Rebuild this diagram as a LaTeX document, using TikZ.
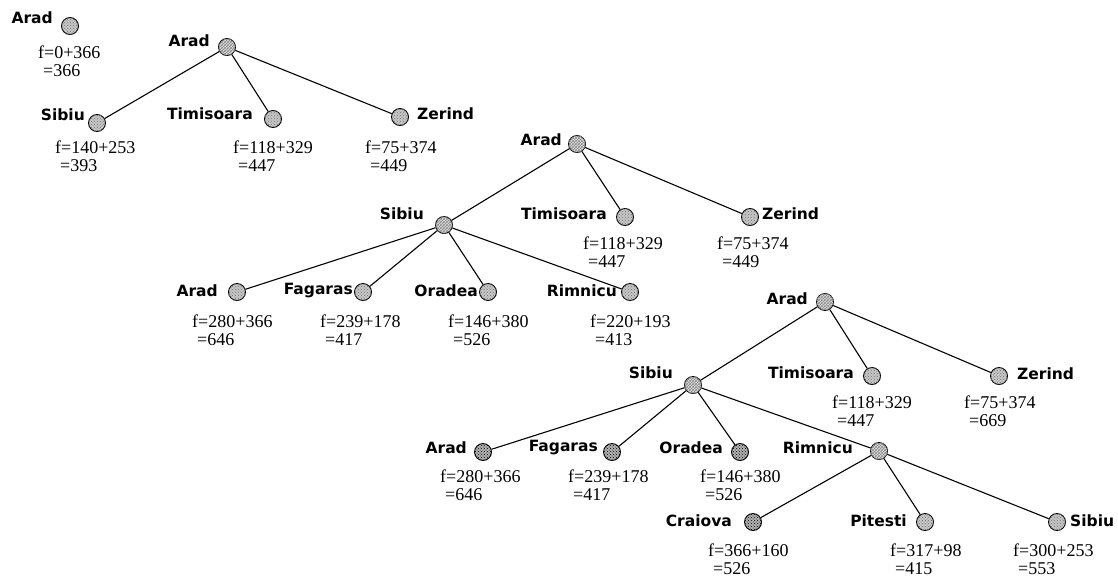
\documentclass[tikz,border=0pt]{standalone}
\usepackage{fontspec}
\usetikzlibrary{patterns}
\newfontfamily\labfont{DejaVu Sans}
\newfontfamily\numfont{Liberation Serif}
\tikzset{
  city/.style={circle, draw=black, line width=0.9pt, minimum size=17pt, inner sep=0pt},
  opencity/.style={city, fill=gray!45, postaction={pattern=crosshatch dots, pattern color=black!55}},
  expcity/.style={city, fill=gray!25, postaction={pattern=crosshatch, pattern color=black!45}},
  darkcity/.style={city, fill=gray!60, postaction={pattern=crosshatch dots, pattern color=black}},
  lab/.style={font=\labfont\bfseries\fontsize{15.5}{18}\selectfont, inner sep=0pt},
  fv/.style={font=\numfont\fontsize{18}{20}\selectfont, inner sep=0pt, anchor=west},
  link/.style={line width=1.1pt, black}
}
\newcommand\fpair[5]{%
  \node[fv] (#1a) at (#2,#3) {#4};
  \node[fv] (#1b) at (#2+5,#3+19) {#5};}
\begin{document}
\begin{tikzpicture}[x=1pt,y=-1pt]
\useasboundingbox (0,0) rectangle (1118,579);
% ---------- stage 0 ----------
\node[opencity] (a0) at (70,26) {};
\node[lab, anchor=east] (la0) at (53,18) {Arad};
\fpair{fa0}{38}{52}{f=0+366}{=366}
% ---------- stage 1 ----------
\node[expcity] (a1) at (227,47) {};
\node[opencity] (s1) at (97,123) {};
\node[opencity] (t1) at (273,119) {};
\node[opencity] (z1) at (400,117) {};
\node[lab, anchor=east] (la1) at (210,41) {Arad};
\node[lab, anchor=east] (ls1) at (85,115) {Sibiu};
\node[lab, anchor=east] (lt1) at (253,114) {Timisoara};
\node[lab, anchor=west] (lz1) at (417,114) {Zerind};
\draw[link] (a1) -- (s1);
\draw[link] (a1) -- (t1);
\draw[link] (a1) -- (z1);
\fpair{fs1}{55}{147}{f=140+253}{=393}
\fpair{ft1}{233}{147}{f=118+329}{=447}
\fpair{fz1}{365}{147}{f=75+374}{=449}
% ---------- stage 2 ----------
\node[expcity] (a2) at (577,144) {};
\node[expcity] (s2) at (444,225) {};
\node[opencity] (t2) at (625,217) {};
\node[opencity] (z2) at (750,217) {};
\node[opencity] (ad2) at (237,292) {};
\node[opencity] (f2) at (363,292) {};
\node[opencity] (o2) at (488,292) {};
\node[opencity] (r2) at (630,292) {};
\node[lab, anchor=east] (la2) at (562,140) {Arad};
\node[lab, anchor=east] (ls2) at (424,214) {Sibiu};
\node[lab, anchor=east] (lt2) at (607,214) {Timisoara};
\node[lab, anchor=west] (lz2) at (762,214) {Zerind};
\node[lab, anchor=east] (lad2) at (218,291) {Arad};
\node[lab, anchor=east] (lf2) at (353,291) {Fagaras};
\node[lab, anchor=east] (lo2) at (478,291) {Oradea};
\node[lab, anchor=east] (lr2) at (617,291) {Rimnicu};
\draw[link] (a2) -- (s2);
\draw[link] (a2) -- (t2);
\draw[link] (a2) -- (z2);
\draw[link] (s2) -- (ad2);
\draw[link] (s2) -- (f2);
\draw[link] (s2) -- (o2);
\draw[link] (s2) -- (r2);
\fpair{ft2}{583}{243}{f=118+329}{=447}
\fpair{fz2}{717}{243}{f=75+374}{=449}
\fpair{fad2}{192}{321}{f=280+366}{=646}
\fpair{ff2}{320}{321}{f=239+178}{=417}
\fpair{fo2}{448}{321}{f=146+380}{=526}
\fpair{fr2}{590}{321}{f=220+193}{=413}
% ---------- stage 3 ----------
\node[expcity] (a3) at (825,302) {};
\node[expcity] (s3) at (693,385) {};
\node[opencity] (t3) at (872,376) {};
\node[opencity] (z3) at (999,376) {};
\node[darkcity] (ad3) at (483,452) {};
\node[darkcity] (f3) at (612,452) {};
\node[darkcity] (o3) at (740,452) {};
\node[expcity] (r3) at (879,451) {};
\node[darkcity] (c3) at (753,522) {};
\node[opencity] (p3) at (925,522) {};
\node[opencity] (sb3) at (1057,522) {};
\node[lab, anchor=east] (la3) at (808,299) {Arad};
\node[lab, anchor=east] (ls3) at (673,373) {Sibiu};
\node[lab, anchor=east] (lt3) at (854,373) {Timisoara};
\node[lab, anchor=west] (lz3) at (1017,374) {Zerind};
\node[lab, anchor=east] (lad3) at (467,448) {Arad};
\node[lab, anchor=east] (lf3) at (598,448) {Fagaras};
\node[lab, anchor=east] (lo3) at (723,448) {Oradea};
\node[lab, anchor=east] (lr3) at (853,448) {Rimnicu};
\node[lab, anchor=east] (lc3) at (732,521) {Craiova};
\node[lab, anchor=east] (lp3) at (907,521) {Pitesti};
\node[lab, anchor=west] (lsb3) at (1070,521) {Sibiu};
\draw[link] (a3) -- (s3);
\draw[link] (a3) -- (t3);
\draw[link] (a3) -- (z3);
\draw[link] (s3) -- (ad3);
\draw[link] (s3) -- (f3);
\draw[link] (s3) -- (o3);
\draw[link] (s3) -- (r3);
\draw[link] (r3) -- (c3);
\draw[link] (r3) -- (p3);
\draw[link] (r3) -- (sb3);
\fpair{ft3}{832}{402}{f=118+329}{=447}
\fpair{fz3}{964}{402}{f=75+374}{=669}
\fpair{fad3}{440}{476}{f=280+366}{=646}
\fpair{ff3}{568}{476}{f=239+178}{=417}
\fpair{fo3}{700}{476}{f=146+380}{=526}
\fpair{fc3}{708}{550}{f=366+160}{=526}
\fpair{fp3}{890}{550}{f=317+98}{=415}
\fpair{fsb3}{1013}{550}{f=300+253}{=553}
\end{tikzpicture}
\end{document}
